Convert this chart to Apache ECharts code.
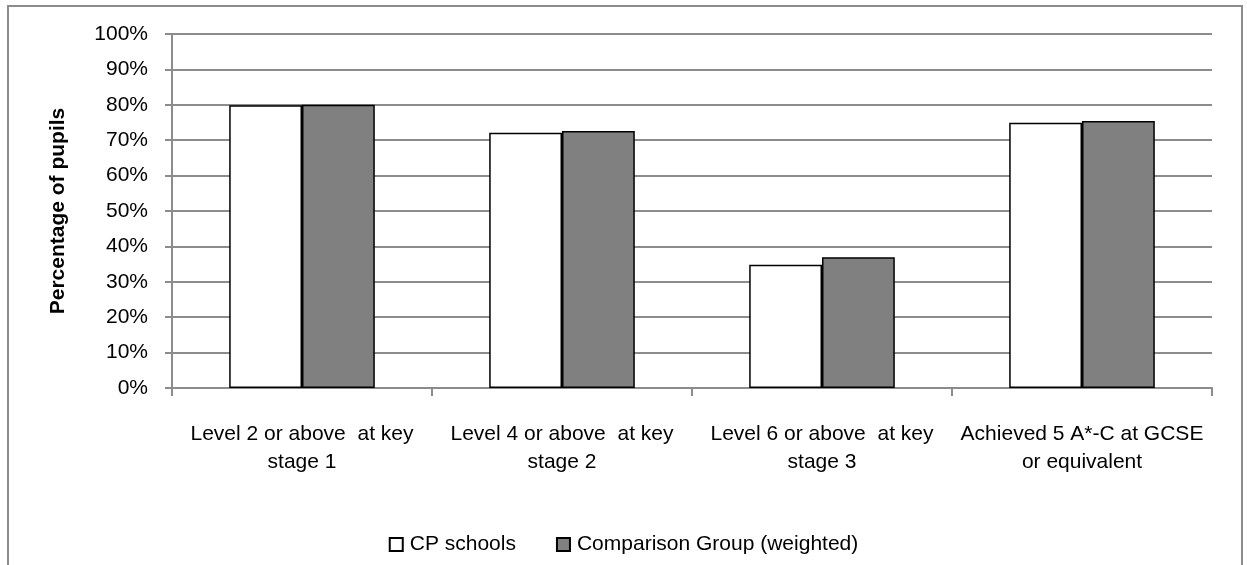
<!DOCTYPE html>
<html><head><meta charset="utf-8">
<script src="https://cdn.jsdelivr.net/npm/echarts@6/dist/echarts.min.js"></script>
<style>
html,body{margin:0;padding:0;background:#fff;}
#frame{position:absolute;left:7px;top:5px;width:1236px;height:570px;border:2px solid #8c8c8c;box-sizing:border-box;}
#c{position:absolute;left:0;top:0;width:1247px;height:565px;}
</style></head>
<body><div id="frame"></div><div id="c"></div>
<script>
const categories = ["Level 2 or above  at key\nstage 1", "Level 4 or above  at key\nstage 2", "Level 6 or above  at key\nstage 3", "Achieved 5 A*-C at GCSE\nor equivalent"];
const cpSchools = [79.9, 72.1, 34.8, 74.9];
const comparisonGroup = [80.0, 72.6, 36.9, 75.4];
const seriesNames = ["CP schools", "Comparison Group (weighted)"];
const yTicks = [0, 10, 20, 30, 40, 50, 60, 70, 80, 90, 100];

const font = "Liberation Sans";
const chart = echarts.init(document.getElementById('c'), null, {renderer:'canvas'});
chart.setOption({
  animation:false,
  textStyle:{fontFamily:font},
  grid:{left:172, right:35, top:34, height:354, containLabel:false},
  legend:{
    top:529, left:'center', itemWidth:13, itemHeight:13, itemGap:40,
    icon:'rect',
    textStyle:{fontSize:21, color:'#000', fontFamily:font, padding:[0,0,0,2]},
    data:seriesNames
  },
  xAxis:{
    type:'category', data:categories,
    axisLine:{lineStyle:{color:'#8c8c8c', width:2}},
    axisTick:{show:true, length:8, lineStyle:{color:'#8c8c8c', width:2}},
    axisLabel:{fontSize:21, color:'#000', margin:32, lineHeight:28, interval:0}
  },
  yAxis:{
    type:'value', min:yTicks[0], max:yTicks[yTicks.length-1], interval:10,
    name:'Percentage of pupils', nameLocation:'middle', nameGap:103, nameRotate:90,
    nameTextStyle:{fontSize:21, fontWeight:'bold', color:'#000'},
    axisLine:{show:true, lineStyle:{color:'#8c8c8c', width:2}},
    axisTick:{show:true, length:7, lineStyle:{color:'#8c8c8c', width:2}},
    splitLine:{lineStyle:{color:'#8c8c8c', width:2}},
    axisLabel:{fontSize:21, color:'#000', margin:24, formatter:v=>v+'%'}
  },
  series:[
    {name:seriesNames[0], type:'bar', data:cpSchools, barGap:'0%', barCategoryGap:'44%',
     itemStyle:{color:'#ffffff', borderColor:'#000', borderWidth:1.5}},
    {name:seriesNames[1], type:'bar', data:comparisonGroup, barGap:'0%', barCategoryGap:'44%',
     itemStyle:{color:'#808080', borderColor:'#000', borderWidth:1.5}}
  ]
});
</script></body></html>
